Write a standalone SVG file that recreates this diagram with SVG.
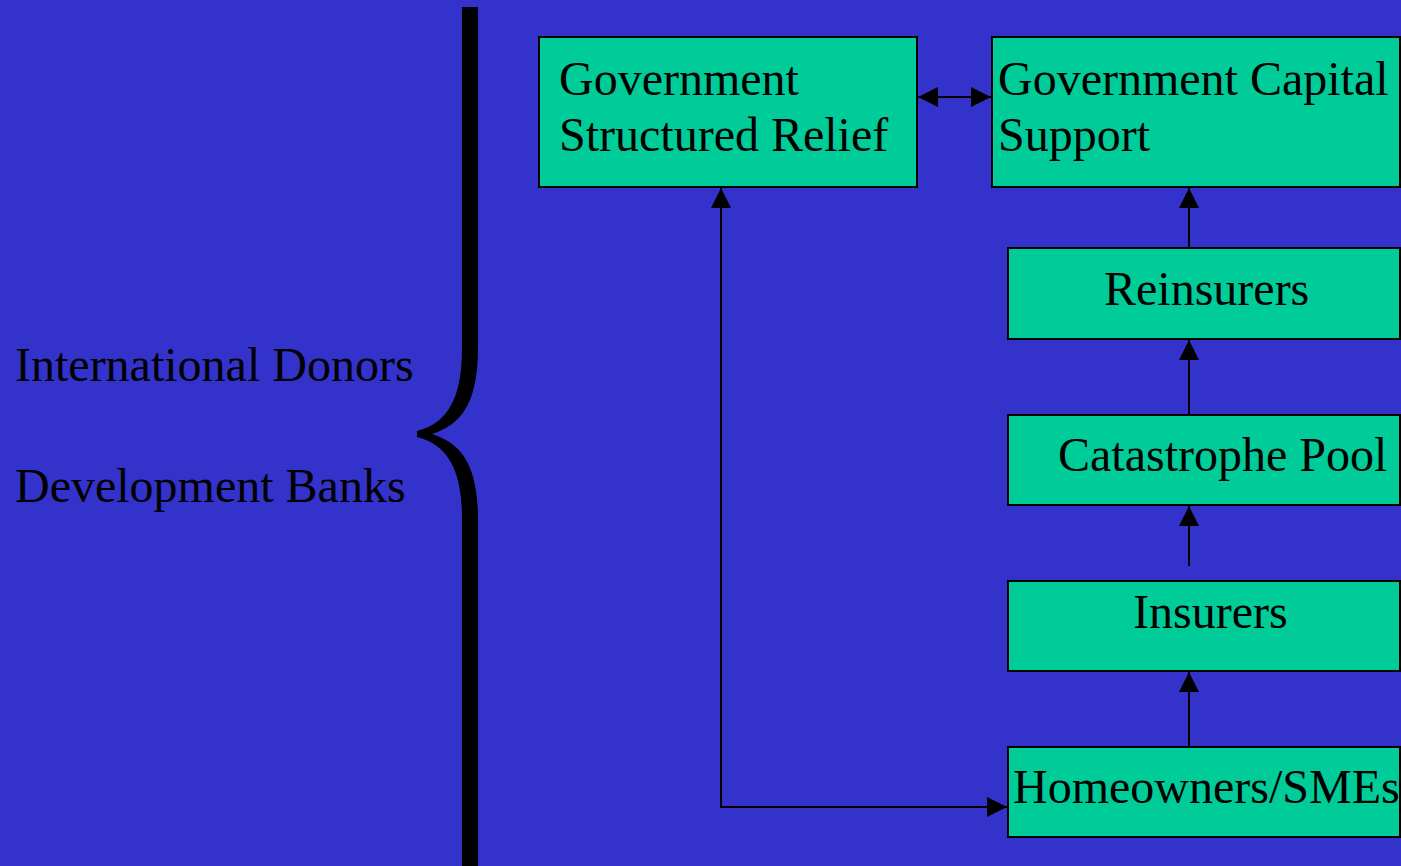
<svg xmlns="http://www.w3.org/2000/svg" width="1401" height="866" viewBox="0 0 1401 866">
<style>
.box{fill:#00CC99;stroke:#000;stroke-width:2}
.t{font-family:"Liberation Serif","Times New Roman",serif;font-size:48px;fill:#000}
.c{fill:none;stroke:#000;stroke-width:2}
</style>
<defs>
<marker id="ah" markerWidth="20" markerHeight="20" refX="20" refY="10" orient="auto-start-reverse" markerUnits="userSpaceOnUse">
<path d="M0,0 L20,10 L0,20 Z" fill="#000"/>
</marker>
</defs>
<rect width="1401" height="866" fill="#3333CC"/>
<g id="brace">
<path d="M462,7 H478 V348 C478,405 460,425 432,434 C460,443 478,463 478,519 V866 H462 V519 C462,470 448,445 417,437 V431 C448,423 462,398 462,348 Z" fill="#000"/>
</g>
<g id="labels">
<text class="t" x="15" y="381">International Donors</text>
<text class="t" x="15" y="502">Development Banks</text>
</g>
<g id="connectors">
<line class="c" x1="918" y1="97" x2="991" y2="97" marker-start="url(#ah)" marker-end="url(#ah)"/>
<line class="c" x1="1189" y1="248" x2="1189" y2="188" marker-end="url(#ah)"/>
<line class="c" x1="1189" y1="415" x2="1189" y2="340" marker-end="url(#ah)"/>
<line class="c" x1="1189" y1="566" x2="1189" y2="506" marker-end="url(#ah)"/>
<line class="c" x1="1189" y1="747" x2="1189" y2="672" marker-end="url(#ah)"/>
<polyline class="c" points="721,188 721,807 1007,807" marker-start="url(#ah)" marker-end="url(#ah)"/>
</g>
<g id="gsr">
<rect class="box" x="539" y="37" width="378" height="150"/>
<text class="t" x="559" y="95">Government</text>
<text class="t" x="559" y="151">Structured Relief</text>
</g>
<g id="gcs">
<rect class="box" x="992" y="37" width="408" height="150"/>
<text class="t" x="998" y="95">Government Capital</text>
<text class="t" x="998" y="151">Support</text>
</g>
<g id="reinsurers">
<rect class="box" x="1008" y="248" width="392" height="91"/>
<text class="t" x="1104" y="305">Reinsurers</text>
</g>
<g id="pool">
<rect class="box" x="1008" y="415" width="392" height="90"/>
<text class="t" x="1058" y="471">Catastrophe Pool</text>
</g>
<g id="insurers">
<rect class="box" x="1008" y="581" width="392" height="90"/>
<text class="t" x="1133" y="628">Insurers</text>
</g>
<g id="homeowners">
<rect class="box" x="1008" y="747" width="392" height="90"/>
<text class="t" x="1013" y="803">Homeowners/SMEs</text>
</g>
</svg>
